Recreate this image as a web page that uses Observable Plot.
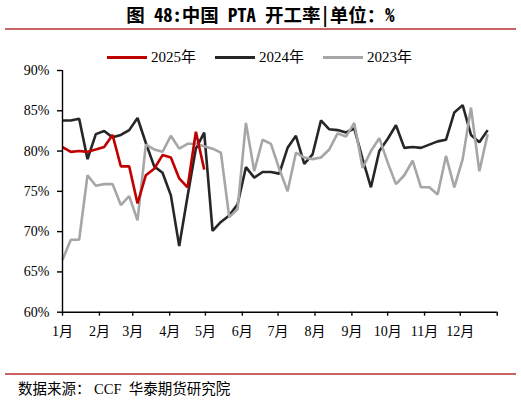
<!DOCTYPE html>
<html><head><meta charset="utf-8">
<script src="https://cdn.jsdelivr.net/npm/d3@7"></script>
<script src="https://cdn.jsdelivr.net/npm/@observablehq/plot@0.6"></script>
<style>
body{margin:0;background:#fff;}
#wrap{position:relative;width:521px;height:404px;overflow:hidden;background:#fff;}
#title{position:absolute;left:0;top:2px;width:521px;text-align:center;font-family:"Noto Sans Mono CJK SC","DejaVu Sans Mono","Noto Sans CJK SC",sans-serif;font-weight:bold;font-size:18.5px;line-height:24px;color:#000;}
.rule{position:absolute;left:5px;width:511px;height:2px;background:#c86464;}
#legend{position:absolute;left:107px;top:47px;display:flex;gap:19px;font-family:"Liberation Serif","Noto Sans CJK SC",serif;font-size:15px;line-height:20px;color:#000;}
#legend .item{display:flex;align-items:center;gap:4px;}
#legend .sw{width:40px;height:3px;}
#chart{position:absolute;left:0;top:62px;}
#foot{position:absolute;left:18px;top:379px;font-family:"Liberation Serif","Noto Sans CJK SC",serif;font-size:14.5px;line-height:20px;color:#000;white-space:pre;}
</style></head>
<body>
<div id="wrap">
  <div id="title">图 48:中国 PTA 开工率|单位：%</div>
  <div class="rule" style="top:28px"></div>
  <div id="legend"></div>
  <div id="chart"></div>
  <div class="rule" style="top:373px"></div>
  <div id="foot">数据来源： CCF  华泰期货研究院</div>
</div>
<script>
const seriesNames = ["2025年", "2024年", "2023年"];
const seriesColors = ["#c00000", "#262626", "#a6a6a6"];
const monthLabels = ["1月","2月","3月","4月","5月","6月","7月","8月","9月","10月","11月","12月"];
const yTicks = [60, 65, 70, 75, 80, 85, 90];
const weeks = ["01-01","01-08","01-15","01-22","01-29","02-05","02-12","02-19","02-26","03-05",
  "03-12","03-19","03-26","04-02","04-09","04-16","04-23","04-30","05-07","05-14",
  "05-21","05-28","06-04","06-11","06-18","06-25","07-02","07-09","07-16","07-23",
  "07-30","08-06","08-13","08-20","08-27","09-03","09-10","09-17","09-24","10-01",
  "10-08","10-15","10-22","10-29","11-05","11-12","11-19","11-26","12-03","12-10",
  "12-17","12-24"];
const v2025 = [80.5,79.9,80.0,79.9,80.2,80.5,82.0,78.1,78.1,73.5,77.0,77.8,79.5,79.2,76.6,75.5,82.4,77.7];
const v2024 = [83.8,83.8,84.0,79.0,82.1,82.5,81.7,82.0,82.6,84.1,
  81.0,78.1,77.3,74.5,68.2,74.4,80.3,82.3,70.1,71.2,
  72.0,73.4,78.0,76.7,77.4,77.4,77.2,80.4,81.9,78.4,
  79.6,83.8,82.7,82.6,82.3,82.8,79.0,75.5,80.0,81.5,
  83.2,80.4,80.5,80.4,80.8,81.2,81.4,84.8,85.7,82.0,
  81.1,82.6];
const v2023 = [66.5,69.0,69.0,77.0,75.7,75.9,75.9,73.3,74.4,71.4,
  80.8,80.2,79.9,81.9,80.3,80.9,80.9,80.6,80.3,79.8,
  71.8,72.8,83.5,77.5,81.4,80.9,77.8,75.0,79.8,79.2,
  79.0,79.2,80.2,82.2,81.8,83.5,77.9,80.0,81.6,78.6,
  75.9,77.0,78.8,75.5,75.5,74.6,79.4,75.5,79.0,85.4,
  77.5,82.1];

const toDate = w => new Date(`2023-${w}T00:00:00Z`);
const rows = [];
[[seriesNames[1], v2024], [seriesNames[2], v2023], [seriesNames[0], v2025]].forEach(([name, vals]) => {
  vals.forEach((v, i) => rows.push({series: name, date: toDate(weeks[i]), value: v}));
});

// legend
const lg = document.getElementById("legend");
seriesNames.forEach((n, i) => {
  const it = document.createElement("div"); it.className = "item";
  const sw = document.createElement("div"); sw.className = "sw"; sw.style.background = seriesColors[i];
  const tx = document.createElement("span"); tx.textContent = n;
  it.appendChild(sw); it.appendChild(tx); lg.appendChild(it);
});

const x0 = new Date(Date.UTC(2023, 0, 1)), x1 = new Date(Date.UTC(2024, 0, 1));
const monthTicks = d3.utcMonth.range(x0, new Date(Date.UTC(2024, 0, 2)));
const font = "'Liberation Serif','Noto Sans CJK SC',serif";

const chart = Plot.plot({
  width: 521, height: 285,
  marginTop: 8, marginBottom: 35.3, marginLeft: 62, marginRight: 24.3,
  style: {fontFamily: font, fontSize: "14px", color: "#000", background: "transparent"},
  x: {type: "utc", domain: [x0, x1]},
  y: {domain: [60, 90]},
  color: {domain: seriesNames, range: seriesColors},
  marks: [
    Plot.axisY({ticks: yTicks, tickFormat: d => d + "%", tickSize: 5, tickPadding: 8, strokeWidth: 1.4, fontSize: 14, label: null}),
    Plot.axisX({ticks: monthTicks, tickFormat: d => d.getUTCFullYear() === 2023 ? monthLabels[d.getUTCMonth()] : "", tickSize: 4, tickPadding: 10, strokeWidth: 1.4, fontSize: 14, label: null}),
    Plot.lineY(rows, {x: "date", y: "value", z: "series", stroke: "series", strokeWidth: 2.6, strokeLinejoin: "miter", strokeLinecap: "butt"}),
    Plot.ruleX([x0], {stroke: "#000", strokeWidth: 1.4}),
    Plot.ruleY([60], {stroke: "#000", strokeWidth: 1.4})
  ]
});
document.getElementById("chart").appendChild(chart);
</script>
</body></html>
